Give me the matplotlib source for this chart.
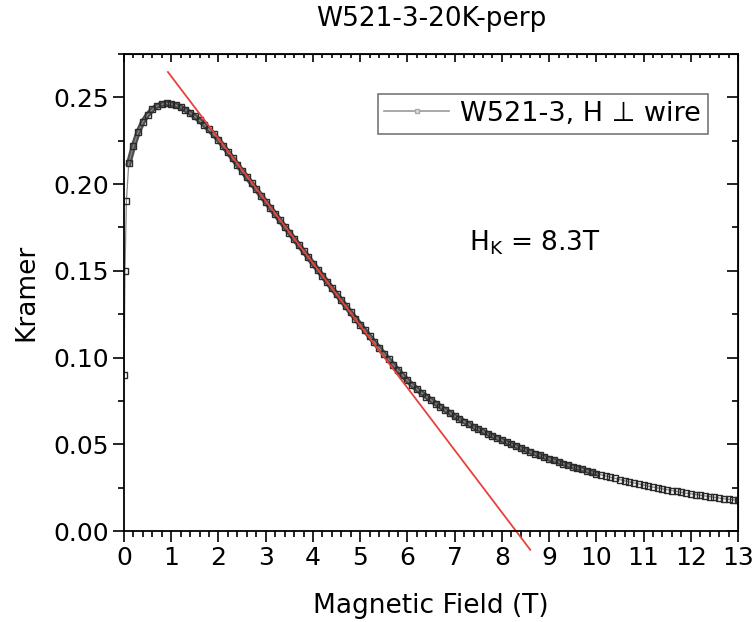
import matplotlib
matplotlib.use('Agg')
import matplotlib.pyplot as plt
from matplotlib.lines import Line2D
from matplotlib.ticker import MultipleLocator, FormatStrFormatter

plt.rcParams['font.family'] = ['DejaVu Sans']

field = [0.0, 0.02, 0.05, 0.1, 0.2, 0.3, 0.4, 0.5, 0.6, 0.7, 0.8, 0.9,
         1.0, 1.1, 1.2, 1.3, 1.4, 1.5, 1.6, 1.7, 1.8, 1.9,
         2.0, 2.1, 2.2, 2.3, 2.4, 2.5, 2.6, 2.7, 2.8, 2.9,
         3.0, 3.1, 3.2, 3.3, 3.4, 3.5, 3.6, 3.7, 3.8, 3.9,
         4.0, 4.1, 4.2, 4.3, 4.4, 4.5, 4.6, 4.7, 4.8, 4.9,
         5.0, 5.1, 5.2, 5.3, 5.4, 5.5, 5.6, 5.7, 5.8, 5.9,
         6.0, 6.1, 6.2, 6.3, 6.4, 6.5, 6.6, 6.7, 6.8, 6.9,
         7.0, 7.1, 7.2, 7.3, 7.4, 7.5, 7.6, 7.7, 7.8, 7.9,
         8.0, 8.1, 8.2, 8.3, 8.4, 8.5, 8.6, 8.7, 8.8, 8.9,
         9.0, 9.1, 9.2, 9.3, 9.4, 9.5, 9.6, 9.7, 9.8, 9.9,
         10.0, 10.1, 10.2, 10.3, 10.4, 10.5, 10.6, 10.7, 10.8, 10.9,
         11.0, 11.1, 11.2, 11.3, 11.4, 11.5, 11.6, 11.7, 11.8, 11.9,
         12.0, 12.1, 12.2, 12.3, 12.4, 12.5, 12.6, 12.7, 12.8, 12.9,
         13.0]
kramer = [0.090, 0.150, 0.190, 0.212, 0.222, 0.230, 0.236, 0.240, 0.243, 0.245, 0.246, 0.2465,
          0.2462, 0.2455, 0.2443, 0.2428, 0.2410, 0.2390, 0.2367, 0.2342, 0.2315, 0.2286,
          0.2255, 0.2220, 0.2184, 0.2148, 0.2112, 0.2076, 0.2040, 0.2005, 0.1970, 0.1934,
          0.1898, 0.1862, 0.1827, 0.1791, 0.1755, 0.1720, 0.1684, 0.1649, 0.1613, 0.1578,
          0.1542, 0.1507, 0.1471, 0.1436, 0.1400, 0.1365, 0.1330, 0.1295, 0.1260, 0.1225,
          0.1190, 0.1156, 0.1122, 0.1088, 0.1055, 0.1022, 0.0990, 0.0958, 0.0927, 0.0897,
          0.0868, 0.0842, 0.0818, 0.0796, 0.0775, 0.0755, 0.0735, 0.0716, 0.0698, 0.0680,
          0.0662, 0.0646, 0.0631, 0.0616, 0.0601, 0.0587, 0.0574, 0.0561, 0.0548, 0.0536,
          0.0524, 0.0512, 0.0500, 0.0489, 0.0478, 0.0467, 0.0456, 0.0446, 0.0436, 0.0426,
          0.0416, 0.0407, 0.0398, 0.0389, 0.0380, 0.0371, 0.0363, 0.0355, 0.0347, 0.0339,
          0.0331, 0.0324, 0.0317, 0.0310, 0.0303, 0.0296, 0.0289, 0.0283, 0.0277, 0.0271,
          0.0265, 0.0259, 0.0253, 0.0248, 0.0243, 0.0238, 0.0233, 0.0228, 0.0223, 0.0218,
          0.0214, 0.0210, 0.0206, 0.0202, 0.0198, 0.0194, 0.0190, 0.0186, 0.0183, 0.0180,
          0.0177]

# linear fit through the steep part, crosses zero at H_K
fit_x = [0.93, 8.6]
fit_y = [0.2646, -0.0108]

fig = plt.figure(figsize=(7.54, 6.22), dpi=100)
ax = fig.add_axes([0.1645, 0.1463, 0.8143, 0.7669])

# dense measurement below 10 T shows as a dark band
n10 = field.index(10.0) + 1
ax.plot(field[3:n10], kramer[3:n10], '-', color='#3a3a3a', lw=4.0, alpha=0.9)
ax.plot(field, kramer, '-s', color='#888888', lw=0.9, ms=4.0,
        mfc='none', mec='#2a2a2a', mew=1.0)
ax.plot(fit_x, fit_y, '-', color='#e8413a', lw=1.3, clip_on=False)

ax.set_xlim(0, 13)
ax.set_ylim(0, 0.275)
ax.xaxis.set_major_locator(MultipleLocator(1))
ax.xaxis.set_minor_locator(MultipleLocator(0.2))
ax.yaxis.set_major_locator(MultipleLocator(0.05))
ax.yaxis.set_minor_locator(MultipleLocator(0.025))
ax.yaxis.set_major_formatter(FormatStrFormatter('%.2f'))

for s in ax.spines.values():
    s.set_linewidth(1.3)

ax.tick_params(which='both', direction='out', labelsize=18, width=1.2)
ax.tick_params(which='major', length=8)
ax.tick_params(which='minor', length=4)
ax.tick_params(axis='x', pad=3)
ax.tick_params(axis='y', pad=3)

# inward ticks on the top and right edges
top = ax.secondary_xaxis('top')
top.set_xticks(range(0, 14))
top.xaxis.set_minor_locator(MultipleLocator(0.2))
top.tick_params(which='both', direction='in', labeltop=False, width=1.2)
top.tick_params(which='major', length=6)
top.tick_params(which='minor', length=3)
right = ax.secondary_yaxis('right')
right.yaxis.set_major_locator(MultipleLocator(0.05))
right.yaxis.set_minor_locator(MultipleLocator(0.025))
right.tick_params(which='both', direction='in', labelright=False, width=1.2)
right.tick_params(which='major', length=8)
right.tick_params(which='minor', length=4)

ax.set_xlabel('Magnetic Field (T)', fontsize=19, labelpad=16)
ax.set_ylabel('Kramer', fontsize=19, labelpad=10)
ax.set_title('W521-3-20K-perp', fontsize=19, pad=20)

ax.text(7.3, 0.166, 'H$_\\mathregular{K}$ = 8.3T', fontsize=19, va='center')

handle = Line2D([], [], color='#999999', lw=1.2, marker='s', ms=3.5,
                mfc='#dddddd', mec='#aaaaaa', mew=1.0)
leg = ax.legend([handle], ['W521-3, H \u22a5 wire'], loc='upper right',
                bbox_to_anchor=(0.951, 0.916), fontsize=19.5,
                fancybox=False, handlelength=2.4, borderpad=0.25,
                handletextpad=0.4, borderaxespad=0.0, framealpha=1)
leg.get_frame().set_edgecolor('#777777')
leg.get_frame().set_linewidth(1.2)

fig.savefig('out.png', dpi=100)
